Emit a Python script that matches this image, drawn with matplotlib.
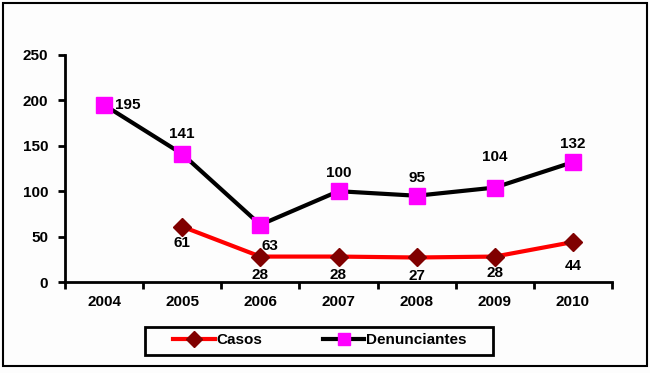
import matplotlib
matplotlib.use("Agg")
import matplotlib.pyplot as plt
from matplotlib.patches import Rectangle
import numpy as np

years = ["2004", "2005", "2006", "2007", "2008", "2009", "2010"]
casos = [None, 61, 28, 28, 27, 28, 44]
denunciantes = [195, 141, 63, 100, 95, 104, 132]
yticks = [0, 50, 100, 150, 200, 250]

plt.rcParams['font.family'] = ['Liberation Sans', 'DejaVu Sans']
plt.rcParams['font.weight'] = 'bold'

W, H = 650, 373
BG = '#FDFDFD'
fig = plt.figure(figsize=(W/100, H/100), dpi=100)
fig.patch.set_facecolor(BG)
fig.patches.append(Rectangle((3/W, 1-366/H), 644/W, 363/H, transform=fig.transFigure,
                             fill=False, edgecolor='black', linewidth=1.5))

ax = fig.add_axes([65/W, 1-282/H, (612-65)/W, (282-55)/H])
ax.set_facecolor(BG)
x = np.arange(len(years))

cx = [i for i, v in enumerate(casos) if v is not None]
cv = [v for v in casos if v is not None]
l1, = ax.plot(cx, cv, color='#FF0000', linewidth=3, marker='D', markersize=9,
              markerfacecolor='#800000', markeredgecolor='#800000', zorder=3)
l2, = ax.plot(x, denunciantes, color='black', linewidth=3, marker='s', markersize=11,
              markerfacecolor='#FF00FF', markeredgecolor='#FF00FF', zorder=4)

fs = 11
ax.set_xlim(-0.5, len(years) - 0.5)
ax.set_ylim(0, 250)
ax.set_yticks(yticks)
ax.set_yticklabels([str(t) for t in yticks], fontsize=fs, fontweight='bold')
ax.set_xticks(x)
ax.set_xticklabels(years, fontsize=fs, fontweight='bold')
ax.tick_params(axis='x', length=0, pad=9)
ax.set_xticks(np.arange(-0.5, len(years)), minor=True)
ax.tick_params(axis='x', which='minor', length=5, width=2, direction='out')
ax.tick_params(axis='y', length=5, width=2, direction='out', pad=7)
for s in ['top', 'right']:
    ax.spines[s].set_visible(False)
for s in ['left', 'bottom']:
    ax.spines[s].set_linewidth(2)

d_off = [(8, 0, 'left', 'center'), (0, 9, 'center', 'bottom'), (7, -10, 'center', 'top'),
         (0, 8, 'center', 'bottom'), (0, 8, 'center', 'bottom'), (0, 17, 'center', 'bottom'),
         (0, 8, 'center', 'bottom')]
for i, v in enumerate(denunciantes):
    dx, dy, ha, va = d_off[i]
    ax.annotate(str(v), (i, v), xytext=(dx, dy), textcoords='offset points',
                ha=ha, va=va, fontsize=fs, fontweight='bold')
c_off = [None, -7, -8, -8, -8, -7, -12]
for i, v in enumerate(casos):
    if v is None:
        continue
    ax.annotate(str(v), (i, v), xytext=(0, c_off[i]), textcoords='offset points',
                ha='center', va='top', fontsize=fs, fontweight='bold')

fig.patches.append(Rectangle((145/W, 1-355/H), (493-145)/W, 28/H, transform=fig.transFigure,
                             fill=False, edgecolor='black', linewidth=2))
fig.legend([l1, l2], ['Casos', 'Denunciantes'], loc='center',
           bbox_to_anchor=((170+470)/2/W, 1-340/H), ncol=2, frameon=False,
           handlelength=2.7, columnspacing=4.0, handletextpad=0.1, borderpad=0.2,
           markerscale=0.85, prop={'weight': 'bold', 'size': fs})

fig.savefig('out.png', dpi=100, facecolor=fig.get_facecolor())
